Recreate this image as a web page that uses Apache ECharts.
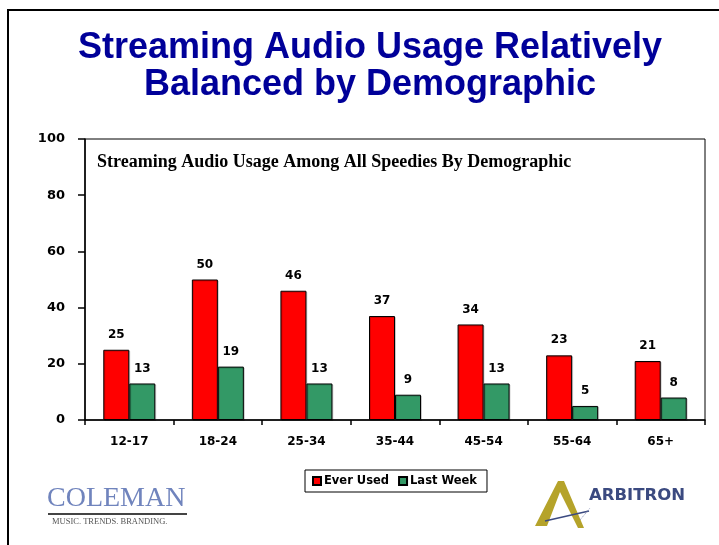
<!DOCTYPE html>
<html>
<head>
<meta charset="utf-8">
<script src="https://cdn.jsdelivr.net/npm/echarts@6/dist/echarts.min.js"></script>
<style>
  html, body { margin: 0; padding: 0; background: #fff; }
  #chart { width: 719px; height: 545px; }
</style>
</head>
<body>
<div id="chart"></div>
<script>
// data
const ageGroups = ['12-17', '18-24', '25-34', '35-44', '45-54', '55-64', '65+'];
const everUsed = [25, 50, 46, 37, 34, 23, 21];
const lastWeek = [13, 19, 13, 9, 13, 5, 8];
const yTicks = [0, 20, 40, 60, 80, 100];

const chart = echarts.init(document.getElementById('chart'));

const colorRed = '#FF0000';
const colorGreen = '#339966';
const numFont = '"DejaVu Sans", sans-serif';

const barLabel = {
    show: true, position: 'top', distance: 9,
    color: '#000', fontFamily: numFont, fontWeight: 'bold', fontSize: 12
};

chart.setOption({
    backgroundColor: '#fff',
    animation: false,
    title: [{
        text: 'Streaming Audio Usage Relatively\nBalanced by Demographic',
        left: 365, top: 25, textAlign: 'center',
        textStyle: {
            color: '#000099', fontFamily: '"Liberation Sans", Arial, sans-serif',
            fontWeight: 'bold', fontSize: 36, lineHeight: 37
        }
    }, {
        text: 'Streaming Audio Usage Among All Speedies By Demographic',
        left: 92, top: 148,
        textStyle: {
            color: '#000', fontFamily: '"Liberation Serif", "Times New Roman", serif',
            fontWeight: 'bold', fontSize: 18
        }
    }],
    legend: {
        left: 305, top: 470,
        padding: [5, 10, 5, 7],
        borderColor: '#000', borderWidth: 1,
        itemWidth: 8, itemHeight: 8, itemGap: 9,
        icon: 'rect',
        textStyle: { color: '#000', fontFamily: numFont, fontWeight: 'bold', fontSize: 11.5, padding: [0, 0, 0, -2] },
        data: ['Ever Used', 'Last Week']
    },
    grid: {
        left: 85, right: 14, top: 139, bottom: 125,
        show: true, borderColor: '#000', borderWidth: 1
    },
    xAxis: {
        type: 'category',
        data: ageGroups,
        axisLine: { lineStyle: { color: '#000', width: 1.5 } },
        axisTick: { show: true, length: 5, lineStyle: { color: '#000', width: 1.5 } },
        axisLabel: { color: '#000', fontFamily: numFont, fontWeight: 'bold', fontSize: 12, margin: 16 }
    },
    yAxis: {
        type: 'value',
        min: yTicks[0], max: yTicks[yTicks.length - 1], interval: 20,
        axisLine: { show: true, lineStyle: { color: '#000', width: 1.5 } },
        axisTick: { show: true, length: 7, lineStyle: { color: '#000', width: 1.5 } },
        splitLine: { show: false },
        axisLabel: { color: '#000', fontFamily: numFont, fontWeight: 'bold', fontSize: 13, margin: 20 }
    },
    series: [{
        name: 'Ever Used',
        type: 'bar',
        data: everUsed,
        barWidth: 26,
        barGap: '0%',
        itemStyle: {
            color: colorRed, borderColor: '#000', borderWidth: 1,
            shadowColor: 'rgba(0,0,0,0.15)', shadowOffsetX: 1, shadowOffsetY: 1
        },
        label: barLabel
    }, {
        name: 'Last Week',
        type: 'bar',
        data: lastWeek,
        barWidth: 26,
        itemStyle: {
            color: colorGreen, borderColor: '#000', borderWidth: 1,
            shadowColor: 'rgba(0,0,0,0.15)', shadowOffsetX: 1, shadowOffsetY: 1
        },
        label: barLabel
    }],
    graphic: [
        // slide frame
        { type: 'polyline', shape: { points: [[8, 545], [8, 10], [719, 10]] }, style: { stroke: '#000', lineWidth: 2, fill: null } },
        // Coleman logo
        { type: 'text', left: 47, top: 485, style: { text: 'COLEMAN', fill: '#7084bd', font: '28px "Liberation Serif", serif' } },
        { type: 'rect', shape: { x: 48, y: 513, width: 139, height: 2 }, style: { fill: '#444' } },
        { type: 'text', left: 52, top: 517, style: { text: 'MUSIC. TRENDS. BRANDING.', fill: '#555', font: '8.5px "Liberation Serif", serif' } },
        // Arbitron logo
        { type: 'polygon', shape: { points: [[535, 526], [558, 481], [564, 481], [584, 528], [578, 528], [560, 492], [547, 526]] }, style: { fill: '#b5a32a' } },
        { type: 'line', shape: { x1: 545, y1: 521, x2: 589, y2: 511 }, style: { stroke: '#3b4a80', lineWidth: 1.5 } },
        { type: 'line', shape: { x1: 580, y1: 520, x2: 590, y2: 508 }, style: { stroke: '#8a93b8', lineWidth: 1, lineDash: [1, 1] } },
        { type: 'text', left: 589, top: 487, style: { text: 'ARBITRON', fill: '#3b4a80', font: 'bold 16.5px "DejaVu Sans", sans-serif' } }
    ]
});
</script>
</body>
</html>
